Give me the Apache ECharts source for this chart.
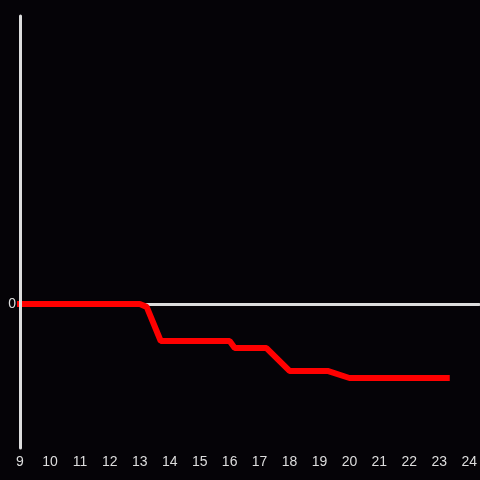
<!DOCTYPE html>
<html>
<head>
<meta charset="utf-8">
<script src="https://cdn.jsdelivr.net/npm/echarts@6/dist/echarts.min.js"></script>
<style>
  html, body { margin: 0; padding: 0; background: #050307; }
  #chart { width: 480px; height: 480px; }
</style>
</head>
<body>
<div id="chart"></div>
<script>
// x positions (hour) and values of the red line
const xs = [9, 13, 13.23, 13.7, 16, 16.17, 17.23, 18, 19.27, 20, 23.25];
const ys = [0, 0, -0.02, -0.257, -0.257, -0.306, -0.306, -0.465, -0.465, -0.514, -0.514];

const points = xs.map((x, i) => [x, ys[i]]);

// x range runs a little past 24 so the zero line reaches the right edge
const xMin = 9;
const xMax = 24 + 1 / 3;

let mychart = echarts.init(document.getElementById("chart"));
mychart.setOption({
  backgroundColor: "#050307",
  animation: false,
  grid: { left: 20, right: 0, top: 16, bottom: 32 },
  xAxis: [
    {
      type: "value",
      min: xMin,
      max: xMax,
      interval: 1,
      axisLine: { onZero: false, show: false },
      axisTick: { show: false },
      splitLine: { show: false },
      axisLabel: {
        color: "#dddddd",
        fontSize: 14,
        margin: 7,
        showMaxLabel: false,
        formatter: v => (Number.isInteger(v) ? String(v) : "")
      }
    },
    {
      // zero line
      type: "value",
      min: xMin,
      max: xMax,
      position: "bottom",
      z: 0,
      axisLine: { onZero: true, show: true, lineStyle: { color: "#dddddd", width: 3 } },
      axisTick: { show: false },
      splitLine: { show: false },
      axisLabel: { show: false }
    }
  ],
  yAxis: {
    type: "value",
    min: -1,
    max: 2,
    interval: 1,
    z: 10,
    axisLine: { show: true, lineStyle: { color: "#dddddd", width: 3 } },
    axisTick: { show: false },
    splitLine: { show: false },
    axisLabel: {
      color: "#dddddd",
      fontSize: 14,
      margin: 4,
      formatter: v => (v === 0 ? "0" : "")
    }
  },
  series: [
    {
      type: "line",
      data: points,
      z: 1,
      clip: false,
      showSymbol: false,
      lineStyle: { color: "#ff0000", width: 6, cap: "square" }
    }
  ]
});
</script>
</body>
</html>
